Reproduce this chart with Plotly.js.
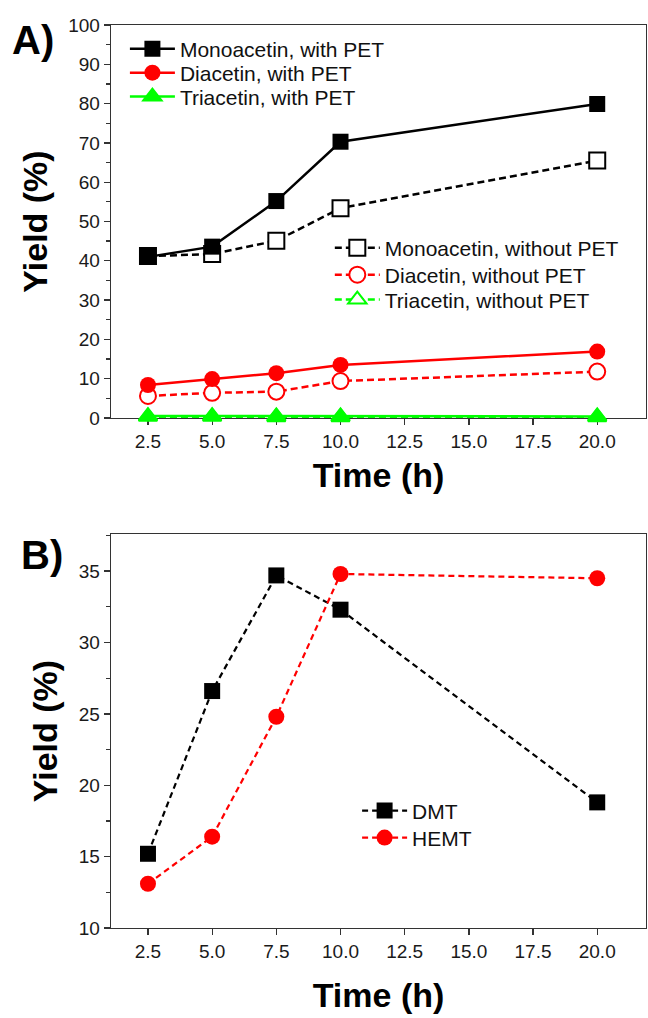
<!DOCTYPE html>
<html>
<head>
<meta charset="utf-8">
<script src="https://cdn.plot.ly/plotly-3.0.1.min.js"></script>
<style>html,body{margin:0;padding:0;background:#fff;}#chart{width:648px;height:1018px;}</style>
</head>
<body>
<div id="chart"></div>
<script>
// ---- Data ----
const timeH = [2.5, 5.0, 7.5, 10.0, 20.0];

// Panel A
const monoWithPET    = [41.0, 43.6, 55.2, 70.3, 79.9];
const diWithPET      = [8.4, 9.9, 11.4, 13.5, 16.9];
const triWithPET     = [0.5, 0.5, 0.4, 0.4, 0.4];
const monoWithoutPET = [41.2, 41.7, 45.1, 53.4, 65.5];
const diWithoutPET   = [5.6, 6.4, 6.7, 9.4, 11.8];
const triWithoutPET  = [0.3, 0.3, 0.2, 0.2, 0.2];

// Panel B
const dmt  = [15.2, 26.6, 34.7, 32.3, 18.8];
const hemt = [13.1, 16.4, 24.8, 34.8, 34.5];

const xTickVals = [2.5, 5.0, 7.5, 10.0, 12.5, 15.0, 17.5, 20.0];
const xTickText = ["2.5", "5.0", "7.5", "10.0", "12.5", "15.0", "17.5", "20.0"];

// ---- Styles ----
const BLACK = "#000000", RED = "#ff0000", GREEN = "#00ff00";
const FONT = "Arial, 'Liberation Sans', sans-serif";
const DASH = "7px,4px";

function tr(y, name, color, symbol, dash, legend, xa, ya, open, lw, mlw) {
  return {
    x: timeH, y: y, name: name, type: "scatter", mode: "lines+markers",
    xaxis: xa, yaxis: ya, legend: legend, cliponaxis: false,
    line: {color: color, width: lw || 2.5, dash: dash},
    marker: {symbol: symbol, size: 16, color: open ? "#ffffff" : color,
             line: {color: color, width: open ? 2 : (mlw || 0)}}
  };
}

const data = [
  tr(monoWithoutPET, "Monoacetin, without PET", BLACK, "square",      DASH, "legend4", "x", "y", true),
  tr(diWithoutPET,   "Diacetin, without PET",   RED,   "circle",      DASH, "legend5", "x", "y", true),
  tr(triWithoutPET,  "Triacetin, without PET",  GREEN, "triangle-up", DASH, "legend6", "x", "y", true),
  tr(monoWithPET,    "Monoacetin, with PET",    BLACK, "square",      "solid", "legend",  "x", "y", false),
  tr(diWithPET,      "Diacetin, with PET",      RED,   "circle",      "solid", "legend2", "x", "y", false),
  tr(triWithPET,     "Triacetin, with PET",     GREEN, "triangle-up", "solid", "legend3", "x", "y", false, 2.5, 2),
  tr(dmt,  "DMT",  BLACK, "square", "6px,4px", "legend7", "x2", "y2", false, 2.2),
  tr(hemt, "HEMT", RED,   "circle", "6px,4px", "legend8", "x2", "y2", false, 2.2)
];

const axCommon = {
  showline: true, mirror: true, linecolor: "#333333", linewidth: 1.3,
  showgrid: false, zeroline: false, ticks: "outside", ticklen: 6, tickwidth: 1.3,
  tickcolor: "#333333", tickfont: {family: FONT, size: 19, color: "#1a1a1a"},
  layer: "below traces"
};

function xAxis(anchor, standoff) {
  return Object.assign({}, axCommon, {
    anchor: anchor, domain: [0, 1], range: [1.06, 21.9],
    tickmode: "array", tickvals: xTickVals, ticktext: xTickText,
    title: {text: "<b>Time (h)</b>", font: {family: FONT, size: 34, color: "#000"}, standoff: standoff}
  });
}
function yAxis(anchor, domain, range, dtick, minor) {
  return Object.assign({}, axCommon, {
    anchor: anchor, domain: domain, range: range, dtick: dtick, tick0: 0,
    minor: {dtick: minor, ticks: "outside", ticklen: 3.5, tickwidth: 1.3, tickcolor: "#333333", showgrid: false},
    title: {text: "<b>Yield (%)</b>", font: {family: FONT, size: 34, color: "#000"}, standoff: 10}
  });
}

const legFont = {family: FONT, size: 21, color: "#111"};
function leg(x, y) {
  return {x: x, y: y, xanchor: "left", yanchor: "middle", bgcolor: "rgba(0,0,0,0)",
          font: legFont, itemwidth: 45, borderwidth: 0};
}

const layout = {
  width: 648, height: 1018,
  margin: {l: 111, r: 2, t: 25, b: 90},
  paper_bgcolor: "#ffffff", plot_bgcolor: "#ffffff",
  showlegend: true,
  xaxis: xAxis("y", 12),
  yaxis: yAxis("x", [0.5648, 1], [0, 100], 10, 5),
  xaxis2: xAxis("y2", 22),
  yaxis2: yAxis("x2", [0, 0.4363], [10, 37.6], 5, 2.5),
  legend:  leg(0.026, 0.9734),
  legend2: leg(0.026, 0.9468),
  legend3: leg(0.026, 0.9203),
  legend4: leg(0.409, 0.7530),
  legend5: leg(0.409, 0.7231),
  legend6: leg(0.409, 0.6955),
  legend7: leg(0.460, 0.1296),
  legend8: leg(0.460, 0.0997),
  annotations: [
    {text: "<b>A)</b>", xref: "paper", yref: "paper", x: -0.146, y: 0.983, xanchor: "center", yanchor: "middle", showarrow: false, font: {family: FONT, size: 40, color: "#000"}},
    {text: "<b>B)</b>", xref: "paper", yref: "paper", x: -0.129, y: 0.413, xanchor: "center", yanchor: "middle", showarrow: false, font: {family: FONT, size: 40, color: "#000"}}
  ]
};

Plotly.newPlot("chart", data, layout, {displayModeBar: false, staticPlot: true});
</script>
</body>
</html>
